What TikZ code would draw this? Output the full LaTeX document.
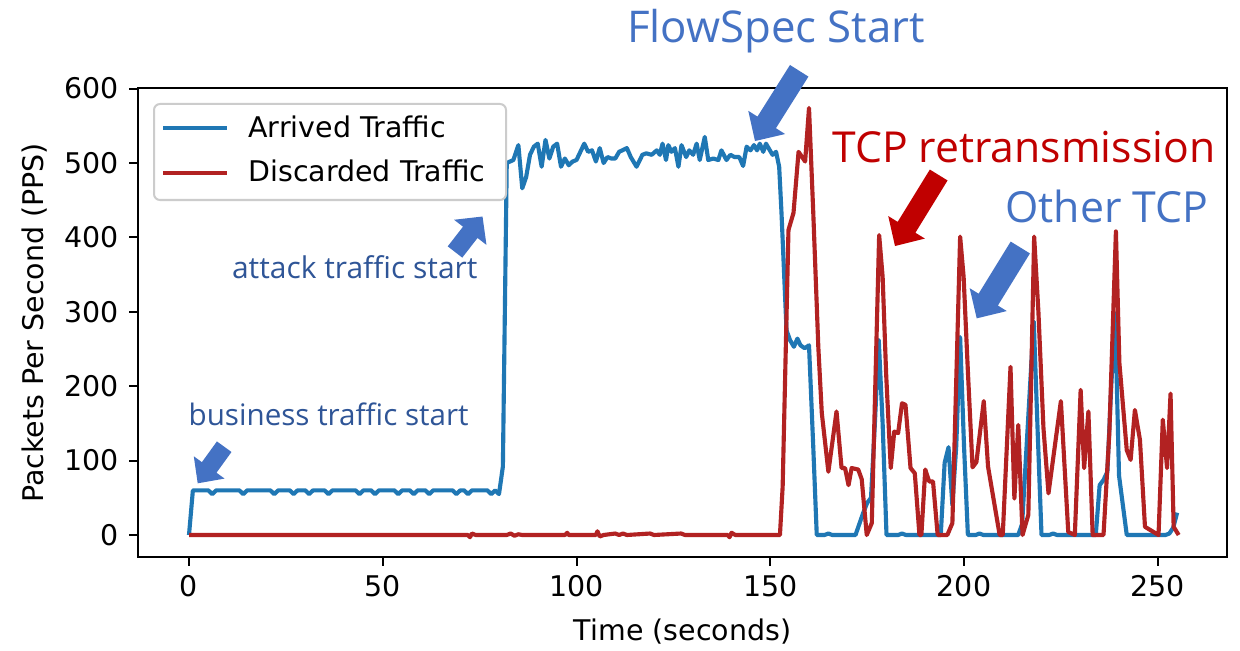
\documentclass[tikz,border=0pt]{standalone}
\usepackage{fontspec}
\setmainfont{DejaVu Sans}
\newfontfamily\annfont{Open Sans}
\usepackage{graphicx}
\definecolor{mplblue}{HTML}{1F77B4}
\definecolor{mplred}{HTML}{B22222}
\definecolor{offblue}{HTML}{4472C4}
\definecolor{offdark}{HTML}{2F5597}
\definecolor{offred}{HTML}{C00000}
\definecolor{legedge}{HTML}{CCCCCC}
% block arrow: colour, tail x, tail y, angle, length, shaft half width, head half width, head length
\newcommand{\blkarrow}[8]{%
  \begin{scope}[shift={(#2,#3)},rotate=#4]
    \fill[#1] (0,-#6) -- ({#5-#8},-#6) -- ({#5-#8},-#7) -- (#5,0) -- ({#5-#8},#7) -- ({#5-#8},#6) -- (0,#6) -- cycle;
  \end{scope}}
\begin{document}
\begin{tikzpicture}[x=0.02cm,y=0.02cm,font=\fontsize{16.2}{19.4}\selectfont]
\tikzset{
  spine/.style={line width=1.14pt},
  tickmark/.style={line width=1.14pt},
  ticklab/.style={inner sep=0pt},
  series/.style={line width=2.35pt,line join=round},
  ann/.style={inner sep=0pt,anchor=base west,font=\annfont},
}
\useasboundingbox (0,0) rectangle (1240,650);
\fill[white] (0,0) rectangle (1240,650);

% ---------- data ----------
\begin{scope}[shift={(189,115)},xscale=3.875,yscale=0.744]
\draw[series,mplblue] plot coordinates {
(0,0) (1,60) (5,60) (6,55) (7,60) (13,60) (14,55) (15,60) (21,60) (22,55) (23,60) (26,60) (27,55) (28,60)
(30,60) (31,55) (32,60) (35,60) (36,55) (37,60) (43,60) (44,55) (45,60) (47,60) (48,55) (49,60) (53,60) (54,55)
(55,60) (57,60) (58,55) (59,60) (61,60) (62,55) (63,60) (68,60) (69,55) (70,60) (71,60) (72,55) (73,60) (77,60)
(78,55) (79,60) (80,55) (81,92) (82,500) (83.7,504) (85,524) (86,466) (87,481) (88,511) (89,522) (90,526) (91,495)
(92,531) (93,506) (94,522) (95,526) (96,495) (97,506) (98,497) (99,502) (100,504) (101,515) (102,526) (103,515)
(104,517) (105,502) (106,520) (107,500) (108,508) (109,506) (110,506) (111,515) (113,520) (114,508) (115.5,495)
(117,511) (118,513) (119.4,511) (120.7,517) (121.5,511) (122.2,526) (123.1,504) (123.7,524) (124.5,515)
(125.4,520) (126.3,495) (127.1,524) (128.3,508) (129.1,517) (130.1,511) (131,526) (131.8,504) (133.1,535)
(134,504) (135.3,506) (136.6,504) (137.4,517) (138.7,504) (139.7,511) (140.8,508) (142,508) (143,496)
(143.9,522) (144.9,517) (145.8,524) (146.6,517) (147.3,526) (148.2,515) (148.9,526) (149.9,517) (150.6,511)
(151.5,515) (152.3,495) (152.9,433) (154.2,275) (155.1,262) (156.1,253) (157,264) (157.8,255) (158.9,251)
(160,255) (161.1,118) (162,0) (164,0) (165,2) (166,0) (172,0) (173,15) (174,30) (175,43) (176,50) (177,150)
(178,262) (179,150) (180,0) (183,0) (184,2) (185,0) (194,0) (195,97) (196,118) (197,40) (198,120) (199,266)
(200,120) (201,0) (203,0) (204,2) (205,0) (214,0) (215,15) (218,287) (219,140) (220,0) (222,0) (223,2) (224,0)
(234,0) (235,67) (236,74) (237,85) (238,200) (239,298) (240,80) (241,40) (242,0) (252,0) (253,2) (254,10) (255,30)
};
\draw[series,mplred] plot coordinates {
(0,0) (72,0) (72.5,-3) (73,2) (74,0) (82,0) (83,2) (84,-1) (85,1) (86,0) (97,0) (97.6,3) (98,0) (105,0)
(105.4,5) (106,-2) (107,0) (110,2) (111,0) (112,2) (113,0) (119,2) (120,0) (127,2) (128,0) (139,0) (139.5,-3)
(140,3) (141,0) (152.5,0) (153.2,65) (154.7,410) (156,433) (157.3,515) (159,502) (160,574) (161.1,433)
(162.4,253) (163.3,164) (165,85) (167.1,166) (168.4,90) (169.3,90) (170.2,67) (171,90) (172.7,88) (173.6,75)
(174.9,0) (176.2,16) (178.1,403) (179,347) (179.9,217) (181.1,90) (182,139) (183,137) (184,177) (184.9,175)
(186.2,90) (187.3,83) (188.5,0) (189,0) (190,88) (191,72) (192,72) (193.2,0) (195.7,0) (197,16) (199,401)
(199.9,347) (201,220) (202.2,91) (203.2,98) (205.1,180) (206.2,92) (209.2,0) (210,0) (212,226) (213,49)
(214,148) (215.1,0) (216.6,27) (218.1,401) (219.2,300) (220.5,144) (221.8,56) (225,180) (226.9,4) (228.6,0)
(230.1,195) (231,90) (232.1,166) (233.2,0) (236,0) (237.5,137) (239.2,408) (240.1,231) (242,114) (243,101)
(244.1,168) (245.4,128) (246.7,11) (250.2,0) (251.3,155) (252.4,90) (253.3,190) (254.1,11) (255.4,0)
};
\end{scope}

% ---------- axes ----------
\draw[spine] (138,93) rectangle (1227,562);
\foreach \v [count=\i from 0] in {0,50,100,150,200,250}{
  \draw[tickmark] ({189+193.75*\i},93) -- ({189+193.75*\i},84);
  \node[ticklab,anchor=north] (xt\i) at ({189+193.75*\i},75) {\v};
}
\foreach \v [count=\i from 0] in {0,100,200,300,400,500,600}{
  \draw[tickmark] (138,{115+74.4*\i}) -- (129,{115+74.4*\i});
  \node[ticklab,anchor=east] (yt\i) at (119,{115+74.4*\i}) {\v};
}
\node[ticklab,anchor=north] (xlabel) at (682.5,31) {Time (seconds)};
\node[ticklab,anchor=base,rotate=90] (ylabel) at (43,327) {Packets Per Second (PPS)};

% ---------- legend ----------
\filldraw[fill=white,draw=legedge,line width=1.14pt,rounded corners=3.4pt] (154,450) rectangle (506,546);
\draw[series,mplblue] (163,522) -- (227,522);
\draw[series,mplred] (163,477) -- (227,477);
\node[ticklab,anchor=base west] (legA) at (248,512) {Arrived Traffic};
\node[ticklab,anchor=base west] (legD) at (248,468.3) {Discarded Traffic};

% ---------- annotations ----------
\node[ann,text=offblue] (flowspec) at (626.7,607) {\resizebox{5.96cm}{!}{FlowSpec Start}};
\node[ann,text=offred] (tcpre) at (832,487) {\resizebox{7.66cm}{!}{TCP retransmission}};
\node[ann,text=offblue] (othertcp) at (1005,427) {\resizebox{4.06cm}{!}{Other TCP}};
\node[ann,text=offdark] (attack) at (231.7,371.7) {\resizebox{4.91cm}{!}{attack traffic start}};
\node[ann,text=offdark] (business) at (188.3,225) {\resizebox{5.6cm}{!}{business traffic start}};

\blkarrow{offblue}{799.2}{579.2}{237.8}{83}{10.9}{21.8}{22}
\blkarrow{offblue}{455}{398}{52.2}{44.9}{9.2}{20.5}{20}
\blkarrow{offblue}{224.2}{203.3}{234.1}{45.2}{9}{19}{19.6}
\blkarrow{offred}{938.7}{475}{238.4}{83.4}{10.4}{21.5}{22}
\blkarrow{offblue}{1020.3}{402.5}{238.4}{83.2}{11.3}{21.8}{22}
\end{tikzpicture}
\end{document}
